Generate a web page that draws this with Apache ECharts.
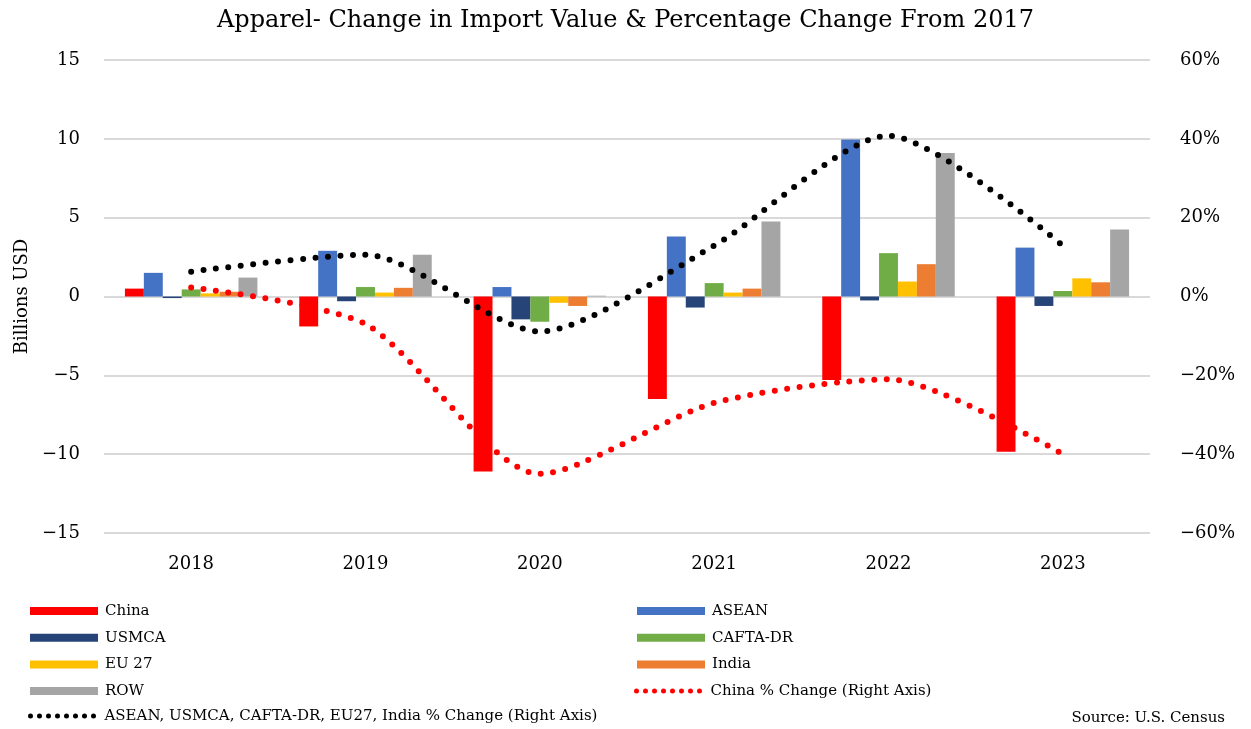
<!DOCTYPE html>
<html>
<head>
<meta charset="utf-8">
<script src="https://cdn.jsdelivr.net/npm/echarts@6/dist/echarts.min.js"></script>
<style>
  html, body { margin: 0; padding: 0; background: #fff; }
  #main { width: 1251px; height: 729px; }
</style>
</head>
<body>
<div id="main"></div>
<script>
const years = ['2018', '2019', '2020', '2021', '2022', '2023']

// billions USD, change from 2017
const china   = [0.5, -1.9, -11.1, -6.5, -5.3, -9.85]
const asean   = [1.5, 2.9, 0.6, 3.8, 9.95, 3.1]
const usmca   = [-0.1, -0.3, -1.45, -0.7, -0.25, -0.6]
const cafta   = [0.45, 0.6, -1.6, 0.85, 2.75, 0.35]
const eu27    = [0.2, 0.25, -0.4, 0.25, 0.95, 1.15]
const india   = [0.3, 0.55, -0.6, 0.5, 2.05, 0.9]
const row     = [1.2, 2.65, 0.05, 4.75, 9.1, 4.25]

// percentage change (right axis)
const chinaPct = [0.023, -0.07, -0.45, -0.27, -0.21, -0.40]
const otherPct = [0.063, 0.106, -0.089, 0.129, 0.408, 0.129]

const FONT = '"DejaVu Serif", "Liberation Serif", serif'
const minus = s => String(s).replace('-', '\u2212')

const barNames = ['China', 'ASEAN', 'USMCA', 'CAFTA-DR', 'EU 27', 'India', 'ROW']
const barData = [china, asean, usmca, cafta, eu27, india, row]
const barColors = ['#ff0000', '#4472c4', '#264478', '#70ad47', '#ffc000', '#ed7d31', '#a5a5a5']
const lineChina = 'China % Change (Right Axis)'
const lineOther = 'ASEAN, USMCA, CAFTA-DR, EU27, India % Change (Right Axis)'

const series = barNames.map((name, i) => ({
    name: name,
    type: 'bar',
    data: barData[i],
    barGap: '0%',
    barCategoryGap: '24%',
    itemStyle: { color: barColors[i] }
}))

const dotted = color => ({ color: color, width: 6, type: [0, 12.5], cap: 'round' })

series.push({
    name: lineChina,
    type: 'line',
    yAxisIndex: 1,
    data: chinaPct,
    smooth: 0.25,
    showSymbol: false,
    itemStyle: { color: '#ff0000' },
    lineStyle: dotted('#ff0000'),
    z: 5
})
series.push({
    name: lineOther,
    type: 'line',
    yAxisIndex: 1,
    data: otherPct,
    smooth: 0.25,
    showSymbol: false,
    itemStyle: { color: '#000' },
    lineStyle: dotted('#000'),
    z: 6
})

// legend icon: row of 8 dots
let dots = ''
for (let i = 0; i < 8; i++) {
    const cx = 2.5 + i * 9
    dots += `M${cx - 2.5} 2.5 A2.5 2.5 0 1 0 ${cx + 2.5} 2.5 A2.5 2.5 0 1 0 ${cx - 2.5} 2.5 Z `
}
const dotIcon = 'path://' + dots

const legendBase = {
    orient: 'vertical',
    padding: 0,
    itemWidth: 68,
    itemHeight: 8,
    itemGap: 11.7,
    textStyle: { fontFamily: FONT, fontSize: 15, color: '#000', padding: [0, 0, 0, 2] },
    icon: 'rect'
}

const chart = echarts.init(document.getElementById('main'))
chart.setOption({
    animation: false,
    title: {
        text: 'Apparel- Change in Import Value & Percentage Change From 2017',
        left: 'center',
        top: 4,
        textStyle: { fontFamily: FONT, fontSize: 24, fontWeight: 'normal', color: '#000' }
    },
    legend: [
        Object.assign({}, legendBase, {
            left: 30, top: 603.5,
            data: ['China', 'USMCA', 'EU 27', 'ROW']
        }),
        Object.assign({}, legendBase, {
            left: 637, top: 603.5,
            data: ['ASEAN', 'CAFTA-DR', 'India']
        }),
        Object.assign({}, legendBase, {
            left: 634, top: 683.5,
            itemWidth: 71, itemHeight: 5,
            icon: dotIcon,
            data: [lineChina]
        }),
        Object.assign({}, legendBase, {
            left: 28, top: 708.5,
            itemWidth: 71, itemHeight: 5,
            icon: dotIcon,
            data: [lineOther]
        })
    ],
    grid: { left: 104, right: 101, top: 60, bottom: 196 },
    xAxis: {
        type: 'category',
        data: years,
        axisLine: { show: false },
        axisTick: { show: false },
        axisLabel: { fontFamily: FONT, fontSize: 18, color: '#000', margin: 22 }
    },
    yAxis: [
        {
            type: 'value',
            min: -15, max: 15, interval: 5,
            name: 'Billions USD',
            nameLocation: 'middle',
            nameGap: 70,
            nameTextStyle: { fontFamily: FONT, fontSize: 18, color: '#000' },
            axisLabel: { fontFamily: FONT, fontSize: 18, color: '#000', margin: 24, formatter: v => minus(v) },
            splitLine: { lineStyle: { color: '#d9d9d9', width: 2 } }
        },
        {
            type: 'value',
            min: -0.6, max: 0.6, interval: 0.2,
            axisLabel: {
                fontFamily: FONT, fontSize: 18, color: '#000', margin: 30,
                formatter: v => minus(Math.round(v * 100) + '%')
            },
            splitLine: { show: false }
        }
    ],
    graphic: [{
        type: 'text',
        right: 26, top: 711,
        style: { text: 'Source: U.S. Census', font: '15px ' + FONT, fill: '#000' }
    }],
    series: series
})
</script>
</body>
</html>
